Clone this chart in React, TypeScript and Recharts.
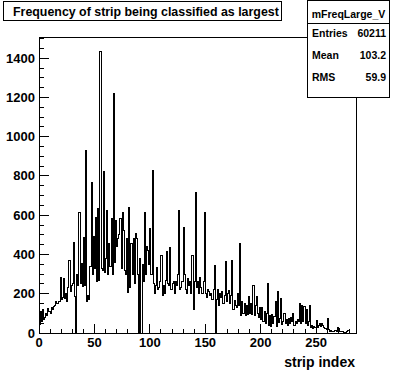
import { LineChart, Line, XAxis, YAxis, ReferenceArea } from "recharts"

// entries per strip (bin i = strip i)
const counts = [
  45, 110, 60, 120, 70, 80, 100, 90, 125, 110,
  100, 130, 120, 135, 140, 160, 150, 150, 160, 285,
  170, 180, 280, 175, 200, 160, 230, 370, 210, 240,
  250, 460, 185, 0, 300, 240, 616, 250, 355, 235,
  487, 240, 929, 160, 190, 170, 340, 768, 300, 490,
  330, 590, 260, 634, 270, 1436, 330, 320, 824, 310,
  380, 624, 300, 457, 340, 584, 300, 1218, 360, 574,
  440, 480, 500, 584, 330, 616, 523, 320, 300, 480,
  208, 641, 233, 457, 300, 482, 250, 507, 480, 300,
  0, 380, 0, 350, 260, 616, 300, 440, 420, 350,
  533, 300, 827, 250, 200, 240, 335, 220, 230, 260,
  396, 190, 240, 200, 270, 413, 250, 240, 438, 220,
  254, 260, 200, 260, 240, 300, 624, 220, 230, 260,
  540, 300, 220, 200, 280, 240, 260, 200, 396, 120,
  260, 717, 230, 260, 200, 285, 230, 200, 260, 616,
  200, 180, 220, 210, 190, 200, 170, 220, 345, 0,
  170, 220, 140, 200, 180, 210, 150, 190, 362, 160,
  200, 218, 150, 190, 370, 120, 167, 140, 130, 203,
  140, 455, 90, 160, 100, 150, 90, 140, 95, 184,
  100, 150, 95, 244, 90, 140, 184, 100, 80, 130,
  70, 130, 60, 110, 50, 100, 252, 40, 90, 35,
  95, 50, 85, 159, 35, 210, 55, 75, 178, 45,
  60, 100, 50, 70, 40, 76, 50, 80, 60, 100,
  40, 60, 50, 70, 60, 152, 50, 140, 60, 134,
  50, 120, 40, 60, 142, 30, 40, 25, 35, 30,
  66, 30, 40, 50, 35, 50, 40, 30, 25, 20,
  76, 20, 10, 12, 10, 10, 8, 12, 10, 30,
  25, 8, 6, 8, 6, 5, 4, 6, 15, 15,
  0, 0, 0, 0, 0,
]

const xTicks = [
  0, 10, 20, 30, 40, 50, 60, 70, 80, 90, 100, 110, 120, 130, 140,
  150, 160, 170, 180, 190, 200, 210, 220, 230, 240, 250, 260, 270, 280,
]
const yTicks = [
  0, 50, 100, 150, 200, 250, 300, 350, 400, 450, 500, 550, 600, 650, 700, 750,
  800, 850, 900, 950, 1000, 1050, 1100, 1150, 1200, 1250, 1300, 1350, 1400, 1450, 1500,
]
const xMax = 286
const yMax = 1508

const stats = [
  { label: "Entries", value: "60211" },
  { label: "Mean", value: "103.2" },
  { label: "RMS", value: "59.9" },
]

const data = counts.map((n, i) => ({ strip: i, n }))
data.push({ strip: counts.length, n: counts[counts.length - 1] })

const font = "'Liberation Sans', Arial, Helvetica, sans-serif"

function XTick({ x, y, payload }: any) {
  const v = payload.value
  const major = v % 50 === 0
  return (
    <g>
      <line x1={x} x2={x} y1={y} y2={y - (major ? 9 : 4)} stroke="#000" shapeRendering="crispEdges" />
      {major && (
        <text x={x} y={y + 14} textAnchor="middle" fontFamily={font} fontWeight="bold" fontSize={13} fill="#000">
          {v}
        </text>
      )}
    </g>
  )
}

function YTick({ x, y, payload }: any) {
  const v = payload.value
  const major = v % 200 === 0
  return (
    <g>
      <line x1={x} x2={x + (major ? 10 : 5)} y1={y} y2={y} stroke="#000" shapeRendering="crispEdges" />
      {major && (
        <text x={x - 4} y={y + 4.5} textAnchor="end" fontFamily={font} fontWeight="bold" fontSize={13} fill="#000">
          {v}
        </text>
      )}
    </g>
  )
}

export default function App() {
  return (
    <div style={{ position: "absolute", left: 0, top: 0, width: 396, height: 372, background: "#fff" }}>
      <LineChart width={396} height={372} data={data} margin={{ top: 37, right: 40, bottom: 0, left: 0 }}>
        <XAxis
          dataKey="strip"
          type="number"
          domain={[0, xMax]}
          ticks={xTicks}
          interval={0}
          tickSize={0}
          tickMargin={0}
          height={39}
          axisLine={false}
          tick={<XTick />}
        />
        <YAxis
          type="number"
          domain={[0, yMax]}
          ticks={yTicks}
          interval={0}
          tickSize={0}
          tickMargin={0}
          width={39}
          axisLine={false}
          tick={<YTick />}
        />
        <ReferenceArea
          x1={0}
          x2={xMax}
          y1={0}
          y2={yMax}
          fill="none"
          fillOpacity={0}
          stroke="#000"
          strokeWidth={1}
          shapeRendering="crispEdges"
        />
        <Line
          type="stepAfter"
          dataKey="n"
          stroke="#000"
          strokeWidth={1}
          dot={false}
          shapeRendering="crispEdges"
          isAnimationActive={false}
        />
      </LineChart>
      <svg width={396} height={372} style={{ position: "absolute", left: 0, top: 0, pointerEvents: "none" }}>
        <rect x={3.5} y={1.5} width={278} height={19} fill="#fff" stroke="#000" />
        <text x={13} y={16} fontFamily={font} fontWeight="bold" fontSize={12.4} fill="#000">
          Frequency of strip being classified as largest
        </text>
        <rect x={307.5} y={0.5} width={82} height={97} fill="#fff" stroke="#000" />
        <line x1={307.5} x2={389.5} y1={23.5} y2={23.5} stroke="#000" />
        <text x={348.5} y={18} textAnchor="middle" fontFamily={font} fontWeight="bold" fontSize={10.5} fill="#000">
          mFreqLarge_V
        </text>
        {stats.map((s, i) => (
          <g key={s.label}>
            <text x={312} y={37 + i * 22} fontFamily={font} fontWeight="bold" fontSize={10.5} fill="#000">
              {s.label}
            </text>
            <text x={386} y={37 + i * 22} textAnchor="end" fontFamily={font} fontWeight="bold" fontSize={10.5} fill="#000">
              {s.value}
            </text>
          </g>
        ))}
        <text x={355} y={367} textAnchor="end" fontFamily={font} fontWeight="bold" fontSize={14} fill="#000">
          strip index
        </text>
      </svg>
    </div>
  )
}
